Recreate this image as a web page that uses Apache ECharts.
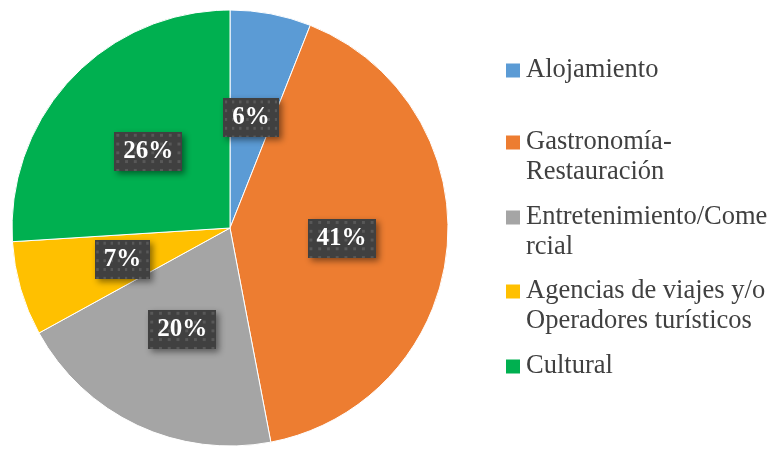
<!DOCTYPE html>
<html>
<head>
<meta charset="utf-8">
<script src="https://cdn.jsdelivr.net/npm/echarts@6/dist/echarts.min.js"></script>
<style>
  html, body { margin: 0; padding: 0; background: #fff; }
  #pie { width: 769px; height: 449px; }
</style>
</head>
<body>
<div id="pie"></div>
<script>
// categories and shares (%)
const categories = ['Alojamiento', 'Gastronomía-Restauración', 'Entretenimiento/Comercial', 'Agencias de viajes y/o Operadores turísticos', 'Cultural']
const legendLines = [
  ['Alojamiento'],
  ['Gastronomía-', 'Restauración'],
  ['Entretenimiento/Come', 'rcial'],
  ['Agencias de viajes y/o', 'Operadores turísticos'],
  ['Cultural']
]
const shares = [6, 41, 20, 7, 26]
const colors = ['#5b9bd5', '#ed7d31', '#a5a5a5', '#ffc000', '#00b050']

// top of each legend entry
const legendTops = [57, 129, 204, 278, 353]

// dotted dark box behind the slice labels
function dotPattern(w, h) {
  const c = document.createElement('canvas')
  c.width = w
  c.height = h
  const ctx = c.getContext('2d')
  ctx.fillStyle = '#404040'
  ctx.fillRect(0, 0, w, h)
  ctx.fillStyle = '#585858'
  for (let y = 2; y < h; y += 9) {
    for (let x = 2; x < w; x += 9) {
      ctx.fillRect(x, y, 3, 3)
    }
  }
  return c
}

const chart = echarts.init(document.getElementById('pie'))

const legends = categories.map((name, i) => {
  const lines = legendLines[i]
  const text = lines.map((l, k) => (k === 0 ? '{sq|}{gap|}' : '{pad|}') + '{t|' + l + '}').join('\n')
  return {
    left: 500,
    top: legendTops[i],
    padding: 0,
    itemWidth: 0,
    itemHeight: 0,
    selectedMode: false,
    data: [name],
    formatter: () => text,
    textStyle: {
      rich: {
        sq: { width: 14, height: 14, backgroundColor: colors[i] },
        gap: { width: 6 },
        pad: { width: 20 },
        t: { fontFamily: 'Liberation Serif', fontSize: 26.5, color: '#404040', lineHeight: 30 }
      }
    }
  }
})

const labelBg = dotPattern(70, 40)

chart.setOption({
  animation: false,
  color: colors,
  legend: legends,
  series: [{
    type: 'pie',
    center: [230, 228],
    radius: 218,
    startAngle: 90,
    clockwise: true,
    itemStyle: { borderColor: '#fff', borderWidth: 1 },
    label: {
      position: 'inside',
      formatter: p => p.value + '%',
      fontFamily: 'Liberation Serif',
      fontWeight: 'bold',
      fontSize: 25,
      color: '#fff',
      backgroundColor: { image: labelBg },
      padding: [8, 9, 6, 9],
      shadowColor: 'rgba(0,0,0,0.45)',
      shadowBlur: 6,
      shadowOffsetX: 3,
      shadowOffsetY: 3
    },
    labelLine: { show: false },
    emphasis: { disabled: true },
    data: categories.map((name, i) => ({ name, value: shares[i] }))
  }]
})
</script>
</body>
</html>
